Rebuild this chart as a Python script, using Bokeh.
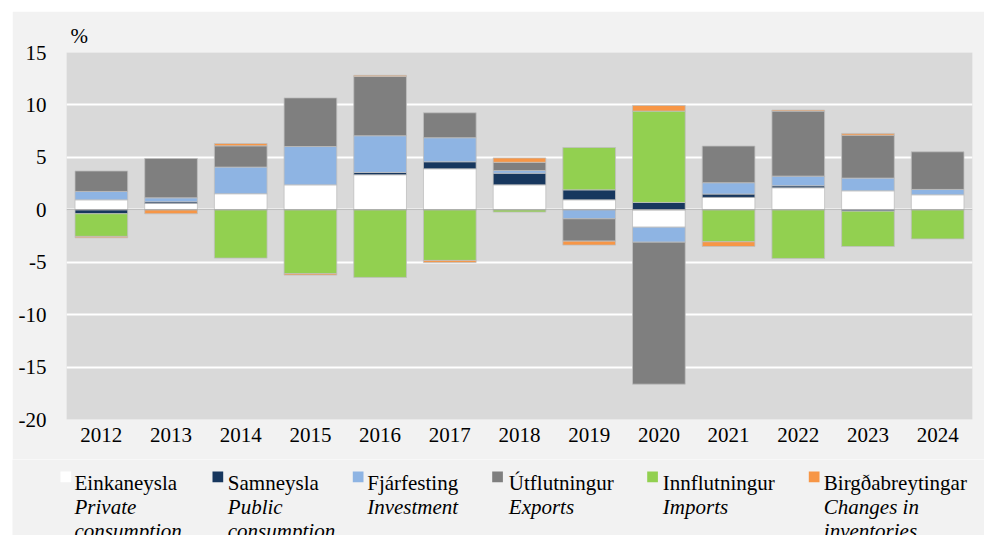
import numpy as np
from bokeh.plotting import figure
from bokeh.layouts import column, row
from bokeh.models import FactorRange, Range1d, FixedTicker, Span
from bokeh.core.properties import value
from bokeh.embed import file_html
from bokeh.resources import INLINE

# ---- data ----
years = ["2012", "2013", "2014", "2015", "2016", "2017", "2018",
         "2019", "2020", "2021", "2022", "2023", "2024"]
private = [0.95, 0.60, 1.53, 2.38, 3.34, 3.91, 2.38, 0.95, -1.66, 1.18, 2.10, 1.81, 1.43]
public = [-0.38, 0.16, 0.00, 0.00, 0.22, 0.67, 1.11, 0.95, 0.70, 0.32, 0.19, -0.13, 0.00]
investment = [0.80, 0.38, 2.54, 3.65, 3.50, 2.29, 0.25, -0.86, -1.43, 1.08, 0.92, 1.21, 0.51]
exports = [1.95, 3.75, 2.03, 4.64, 5.66, 2.38, 0.79, -2.13, -13.54, 3.50, 6.20, 4.10, 3.59]
imports = [-2.16, 0.00, -4.61, -6.10, -6.45, -4.83, -0.22, 4.04, 8.71, -3.05, -4.64, -3.37, -2.78]
inventories = [-0.13, -0.38, 0.22, -0.13, 0.10, -0.19, 0.41, -0.38, 0.54, -0.45, 0.10, 0.16, 0.00]

names_is = ["Einkaneysla", "Samneysla", "Fjárfesting", "Útflutningur",
            "Innflutningur", "Birgðabreytingar"]
names_en = [["Private", "consumption"], ["Public", "consumption"], ["Investment"],
            ["Exports"], ["Imports"], ["Changes in", "inventories"]]
colors = ["#ffffff", "#17375e", "#8eb4e3", "#7f7f7f", "#92d050", "#f79646"]

y_ticks = [-20, -15, -10, -5, 0, 5, 10, 15]
y_tick_labels = ["-20", "-15", "-10", "-5", "0", "5", "10", "15"]
unit_label = "%"

FONT = "Liberation Serif"
FS = "21px"
BG = "#f2f2f2"

# ---- main chart ----
p = figure(x_range=FactorRange(*years), y_range=Range1d(-20, 15),
           width=972, height=448, output_backend="svg", toolbar_location=None,
           min_border_left=54, min_border_right=12, min_border_top=41,
           min_border_bottom=40, margin=(11, 0, 0, 12))
p.border_fill_color = BG
p.background_fill_color = "#d9d9d9"
p.outline_line_color = None

p.title.text = unit_label
p.title.align = "left"
p.title.offset = 4
p.title.standoff = 10
p.title.text_font = FONT
p.title.text_font_size = FS
p.title.text_font_style = "normal"
p.title.text_color = "black"

p.xgrid.visible = False
p.ygrid.ticker = FixedTicker(ticks=y_ticks)
p.ygrid.grid_line_color = "white"
p.ygrid.grid_line_width = 2

p.yaxis.ticker = FixedTicker(ticks=y_ticks)
p.yaxis.major_label_overrides = {t: l for t, l in zip(y_ticks, y_tick_labels)}
for ax in (p.xaxis[0], p.yaxis[0]):
    ax.axis_line_color = None
    ax.major_tick_line_color = None
    ax.minor_tick_line_color = None
    ax.major_tick_out = 0
    ax.major_tick_in = 0
    ax.major_label_text_font = FONT
    ax.major_label_text_font_size = FS
    ax.major_label_text_color = "black"
p.yaxis.major_label_standoff = 20
p.xaxis.major_label_standoff = 8

# stacked bars: positives stack upward, negatives downward
vals = np.array([private, public, investment, exports, imports, inventories])
pos = np.where(vals > 0, vals, 0.0)
neg = np.where(vals < 0, vals, 0.0)
pos_top = np.cumsum(pos, axis=0)
pos_bot = pos_top - pos
neg_bot = np.cumsum(neg, axis=0)
neg_top = neg_bot - neg

for k in range(len(colors)):
    idx = np.where(vals[k] != 0)[0]
    xs = [years[i] for i in idx]
    top = np.where(vals[k] > 0, pos_top[k], neg_top[k])[idx]
    bottom = np.where(vals[k] > 0, pos_bot[k], neg_bot[k])[idx]
    p.vbar(x=xs, top=top, bottom=bottom, width=0.756,
           fill_color=colors[k], line_color="#bfbfbf", line_width=0.8)

p.add_layout(Span(location=0, dimension="width", line_color="#a6a6a6", line_width=1))

# ---- legend (separate strip; coordinates are pixels within the strip) ----
LW, LH = 972, 76
lg = figure(width=LW, height=LH, x_range=Range1d(0, LW), y_range=Range1d(0, LH),
            output_backend="svg", toolbar_location=None,
            min_border=0, margin=(0, 0, 0, 12))
lg.axis.visible = False
lg.grid.visible = False
lg.outline_line_color = None
lg.border_fill_color = BG
lg.background_fill_color = BG

sq_left = [48.0, 200.0, 340.3, 479.7, 634.7, 796.3]
txt_left = [62.0, 215.3, 354.7, 496.3, 650.3, 811.3]
SQ = 10.7
SQ_TOP = 64.0
rows = [52.3, 28.3, 4.3]

lg.quad(left=sq_left, right=[s + SQ for s in sq_left],
        top=[SQ_TOP] * len(sq_left), bottom=[SQ_TOP - SQ] * len(sq_left),
        fill_color=colors, line_color=None)

lg.text(x=txt_left, y=[rows[0]] * len(names_is), text=names_is,
        text_font=value(FONT), text_font_size=FS, text_color="black",
        text_baseline="alphabetic", text_align="left")

ex, ey, et = [], [], []
for k, lines in enumerate(names_en):
    for j, line in enumerate(lines):
        ex.append(txt_left[k])
        ey.append(rows[j + 1])
        et.append(line)
lg.text(x=ex, y=ey, text=et, text_font=value(FONT), text_font_size=FS,
        text_font_style="italic", text_color="black",
        text_baseline="alphabetic", text_align="left")

layout = column(p, row(lg), spacing=0)
open("out.html", "w").write(file_html(layout, INLINE))
